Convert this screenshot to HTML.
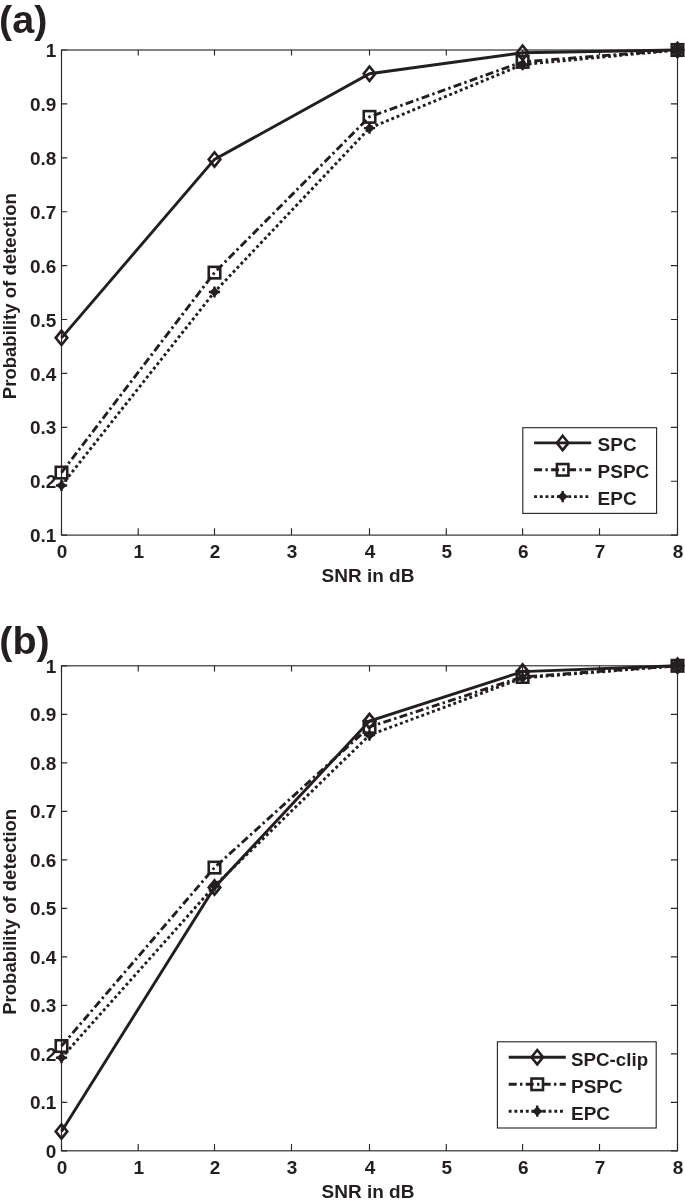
<!DOCTYPE html><html><head><meta charset="utf-8"><style>html,body{margin:0;padding:0;background:#fff;overflow:hidden;}svg{display:block;will-change:transform}</style></head><body>
<svg width="685" height="1202" viewBox="0 0 685 1202" font-family="'Liberation Sans', sans-serif" font-weight="bold" fill="#231f20">
<rect width="685" height="1202" fill="#fff"/>
<text transform="translate(-0.9,33.2) scale(1.04,1)" font-size="38">(a)</text>
<rect x="61.5" y="50.0" width="616.00" height="485.10" fill="none" stroke="#2a2a2a" stroke-width="1.15"/>
<path d="M61.50,535.1 v-6.8 M61.50,50.0 v5.6 M138.20,535.1 v-6.8 M138.20,50.0 v5.6 M214.50,535.1 v-6.8 M214.50,50.0 v5.6 M291.50,535.1 v-6.8 M291.50,50.0 v5.6 M369.50,535.1 v-6.8 M369.50,50.0 v5.6 M446.30,535.1 v-6.8 M446.30,50.0 v5.6 M522.60,535.1 v-6.8 M522.60,50.0 v5.6 M599.50,535.1 v-6.8 M599.50,50.0 v5.6 M677.50,535.1 v-6.8 M677.50,50.0 v5.6 M61.5,535.10 h5.7 M677.5,535.10 h-6.6 M61.5,481.20 h5.7 M677.5,481.20 h-6.6 M61.5,427.30 h5.7 M677.5,427.30 h-6.6 M61.5,373.40 h5.7 M677.5,373.40 h-6.6 M61.5,319.50 h5.7 M677.5,319.50 h-6.6 M61.5,265.60 h5.7 M677.5,265.60 h-6.6 M61.5,211.70 h5.7 M677.5,211.70 h-6.6 M61.5,157.80 h5.7 M677.5,157.80 h-6.6 M61.5,103.90 h5.7 M677.5,103.90 h-6.6 M61.5,50.00 h5.7 M677.5,50.00 h-6.6" stroke="#2a2a2a" stroke-width="1.15" fill="none"/>
<text transform="translate(62.10,557.70) scale(1.055,1)" text-anchor="middle" font-size="18" >0</text>
<text transform="translate(138.80,557.70) scale(1.055,1)" text-anchor="middle" font-size="18" >1</text>
<text transform="translate(215.10,557.70) scale(1.055,1)" text-anchor="middle" font-size="18" >2</text>
<text transform="translate(292.10,557.70) scale(1.055,1)" text-anchor="middle" font-size="18" >3</text>
<text transform="translate(370.10,557.70) scale(1.055,1)" text-anchor="middle" font-size="18" >4</text>
<text transform="translate(446.90,557.70) scale(1.055,1)" text-anchor="middle" font-size="18" >5</text>
<text transform="translate(523.20,557.70) scale(1.055,1)" text-anchor="middle" font-size="18" >6</text>
<text transform="translate(600.10,557.70) scale(1.055,1)" text-anchor="middle" font-size="18" >7</text>
<text transform="translate(678.10,557.70) scale(1.055,1)" text-anchor="middle" font-size="18" >8</text>
<text transform="translate(56.30,542.20) scale(1.055,1)" text-anchor="end" font-size="18" >0.1</text>
<text transform="translate(56.30,488.30) scale(1.055,1)" text-anchor="end" font-size="18" >0.2</text>
<text transform="translate(56.30,434.40) scale(1.055,1)" text-anchor="end" font-size="18" >0.3</text>
<text transform="translate(56.30,380.50) scale(1.055,1)" text-anchor="end" font-size="18" >0.4</text>
<text transform="translate(56.30,326.60) scale(1.055,1)" text-anchor="end" font-size="18" >0.5</text>
<text transform="translate(56.30,272.70) scale(1.055,1)" text-anchor="end" font-size="18" >0.6</text>
<text transform="translate(56.30,218.80) scale(1.055,1)" text-anchor="end" font-size="18" >0.7</text>
<text transform="translate(56.30,164.90) scale(1.055,1)" text-anchor="end" font-size="18" >0.8</text>
<text transform="translate(56.30,111.00) scale(1.055,1)" text-anchor="end" font-size="18" >0.9</text>
<text transform="translate(56.30,57.10) scale(1.055,1)" text-anchor="end" font-size="18" >1</text>
<text transform="translate(368.00,581.80) scale(1.055,1)" text-anchor="middle" font-size="18" >SNR in dB</text>
<text transform="translate(16.3,296.2) rotate(-90) scale(1.03,1)" text-anchor="middle" font-size="18">Probability of detection</text>
<polyline points="61.50,337.83 214.50,159.42 369.50,73.72 522.60,52.69 677.50,50.00" fill="none" stroke="#231f20" stroke-width="2.9" stroke-linejoin="miter"/>
<polyline points="61.50,472.58 214.50,272.61 369.50,116.84 522.60,61.86 677.50,50.00" fill="none" stroke="#231f20" stroke-width="2.9" stroke-dasharray="8.0 3.3 2.4 3.3"/>
<polyline points="61.50,485.51 214.50,292.01 369.50,128.15 522.60,64.55 677.50,50.00" fill="none" stroke="#231f20" stroke-width="2.9" stroke-dasharray="2.9 2.8"/>
<path d="M61.50,480.51 L66.50,485.51 L61.50,490.51 L56.50,485.51 Z" fill="#231f20"/><path d="M55.90,485.51 H67.10 M61.50,479.91 V491.11" stroke="#231f20" stroke-width="2.4" fill="none"/>
<path d="M214.50,287.01 L219.50,292.01 L214.50,297.01 L209.50,292.01 Z" fill="#231f20"/><path d="M208.90,292.01 H220.10 M214.50,286.41 V297.61" stroke="#231f20" stroke-width="2.4" fill="none"/>
<path d="M369.50,123.15 L374.50,128.15 L369.50,133.15 L364.50,128.15 Z" fill="#231f20"/><path d="M363.90,128.15 H375.10 M369.50,122.55 V133.75" stroke="#231f20" stroke-width="2.4" fill="none"/>
<path d="M522.60,59.55 L527.60,64.55 L522.60,69.55 L517.60,64.55 Z" fill="#231f20"/><path d="M517.00,64.55 H528.20 M522.60,58.95 V70.15" stroke="#231f20" stroke-width="2.4" fill="none"/>
<path d="M677.50,45.00 L682.50,50.00 L677.50,55.00 L672.50,50.00 Z" fill="#231f20"/><path d="M671.90,50.00 H683.10 M677.50,44.40 V55.60" stroke="#231f20" stroke-width="2.4" fill="none"/>
<rect x="55.75" y="466.83" width="11.50" height="11.50" fill="none" stroke="#231f20" stroke-width="2.6"/>
<rect x="208.75" y="266.86" width="11.50" height="11.50" fill="none" stroke="#231f20" stroke-width="2.6"/>
<rect x="363.75" y="111.09" width="11.50" height="11.50" fill="none" stroke="#231f20" stroke-width="2.6"/>
<rect x="516.85" y="56.11" width="11.50" height="11.50" fill="none" stroke="#231f20" stroke-width="2.6"/>
<rect x="671.75" y="44.25" width="11.50" height="11.50" fill="none" stroke="#231f20" stroke-width="2.6"/>
<path d="M61.50,330.63 L67.30,337.83 L61.50,345.03 L55.70,337.83 Z" fill="none" stroke="#231f20" stroke-width="2.6" stroke-linejoin="miter" stroke-miterlimit="10"/>
<path d="M214.50,152.22 L220.30,159.42 L214.50,166.62 L208.70,159.42 Z" fill="none" stroke="#231f20" stroke-width="2.6" stroke-linejoin="miter" stroke-miterlimit="10"/>
<path d="M369.50,66.52 L375.30,73.72 L369.50,80.92 L363.70,73.72 Z" fill="none" stroke="#231f20" stroke-width="2.6" stroke-linejoin="miter" stroke-miterlimit="10"/>
<path d="M522.60,45.49 L528.40,52.69 L522.60,59.89 L516.80,52.69 Z" fill="none" stroke="#231f20" stroke-width="2.6" stroke-linejoin="miter" stroke-miterlimit="10"/>
<path d="M677.50,42.80 L683.30,50.00 L677.50,57.20 L671.70,50.00 Z" fill="none" stroke="#231f20" stroke-width="2.6" stroke-linejoin="miter" stroke-miterlimit="10"/>
<rect x="522.8" y="427.7" width="133.80" height="85.70" fill="#fff" stroke="#2a2a2a" stroke-width="1.15"/>
<path d="M534.10,442.90 H591.20" stroke="#231f20" stroke-width="2.9" />
<path d="M562.65,435.70 L568.45,442.90 L562.65,450.10 L556.85,442.90 Z" fill="none" stroke="#231f20" stroke-width="2.6" stroke-linejoin="miter" stroke-miterlimit="10"/>
<text transform="translate(597.60,451.30) scale(1.055,1)" text-anchor="start" font-size="18" >SPC</text>
<path d="M534.10,469.80 H591.20" stroke="#231f20" stroke-width="2.9" stroke-dasharray="8.0 3.3 2.4 3.3"/>
<rect x="556.90" y="464.05" width="11.50" height="11.50" fill="none" stroke="#231f20" stroke-width="2.6"/>
<text transform="translate(597.60,478.20) scale(1.055,1)" text-anchor="start" font-size="18" >PSPC</text>
<path d="M534.10,496.60 H591.20" stroke="#231f20" stroke-width="2.9" stroke-dasharray="2.9 2.8"/>
<path d="M562.65,491.60 L567.65,496.60 L562.65,501.60 L557.65,496.60 Z" fill="#231f20"/><path d="M557.05,496.60 H568.25 M562.65,491.00 V502.20" stroke="#231f20" stroke-width="2.4" fill="none"/>
<text transform="translate(597.60,505.00) scale(1.055,1)" text-anchor="start" font-size="18" >EPC</text>
<text transform="translate(-0.7,653.5) scale(1.04,1)" font-size="38">(b)</text>
<rect x="61.5" y="665.8" width="616.00" height="485.00" fill="none" stroke="#2a2a2a" stroke-width="1.15"/>
<path d="M61.50,1150.8 v-6.8 M61.50,665.8 v5.6 M138.20,1150.8 v-6.8 M138.20,665.8 v5.6 M214.50,1150.8 v-6.8 M214.50,665.8 v5.6 M291.50,1150.8 v-6.8 M291.50,665.8 v5.6 M369.50,1150.8 v-6.8 M369.50,665.8 v5.6 M446.30,1150.8 v-6.8 M446.30,665.8 v5.6 M522.60,1150.8 v-6.8 M522.60,665.8 v5.6 M599.50,1150.8 v-6.8 M599.50,665.8 v5.6 M677.50,1150.8 v-6.8 M677.50,665.8 v5.6 M61.5,1150.80 h5.7 M677.5,1150.80 h-6.6 M61.5,1102.30 h5.7 M677.5,1102.30 h-6.6 M61.5,1053.80 h5.7 M677.5,1053.80 h-6.6 M61.5,1005.30 h5.7 M677.5,1005.30 h-6.6 M61.5,956.80 h5.7 M677.5,956.80 h-6.6 M61.5,908.30 h5.7 M677.5,908.30 h-6.6 M61.5,859.80 h5.7 M677.5,859.80 h-6.6 M61.5,811.30 h5.7 M677.5,811.30 h-6.6 M61.5,762.80 h5.7 M677.5,762.80 h-6.6 M61.5,714.30 h5.7 M677.5,714.30 h-6.6 M61.5,665.80 h5.7 M677.5,665.80 h-6.6" stroke="#2a2a2a" stroke-width="1.15" fill="none"/>
<text transform="translate(62.10,1173.70) scale(1.055,1)" text-anchor="middle" font-size="18" >0</text>
<text transform="translate(138.80,1173.70) scale(1.055,1)" text-anchor="middle" font-size="18" >1</text>
<text transform="translate(215.10,1173.70) scale(1.055,1)" text-anchor="middle" font-size="18" >2</text>
<text transform="translate(292.10,1173.70) scale(1.055,1)" text-anchor="middle" font-size="18" >3</text>
<text transform="translate(370.10,1173.70) scale(1.055,1)" text-anchor="middle" font-size="18" >4</text>
<text transform="translate(446.90,1173.70) scale(1.055,1)" text-anchor="middle" font-size="18" >5</text>
<text transform="translate(523.20,1173.70) scale(1.055,1)" text-anchor="middle" font-size="18" >6</text>
<text transform="translate(600.10,1173.70) scale(1.055,1)" text-anchor="middle" font-size="18" >7</text>
<text transform="translate(678.10,1173.70) scale(1.055,1)" text-anchor="middle" font-size="18" >8</text>
<text transform="translate(56.30,1157.90) scale(1.055,1)" text-anchor="end" font-size="18" >0</text>
<text transform="translate(56.30,1109.40) scale(1.055,1)" text-anchor="end" font-size="18" >0.1</text>
<text transform="translate(56.30,1060.90) scale(1.055,1)" text-anchor="end" font-size="18" >0.2</text>
<text transform="translate(56.30,1012.40) scale(1.055,1)" text-anchor="end" font-size="18" >0.3</text>
<text transform="translate(56.30,963.90) scale(1.055,1)" text-anchor="end" font-size="18" >0.4</text>
<text transform="translate(56.30,915.40) scale(1.055,1)" text-anchor="end" font-size="18" >0.5</text>
<text transform="translate(56.30,866.90) scale(1.055,1)" text-anchor="end" font-size="18" >0.6</text>
<text transform="translate(56.30,818.40) scale(1.055,1)" text-anchor="end" font-size="18" >0.7</text>
<text transform="translate(56.30,769.90) scale(1.055,1)" text-anchor="end" font-size="18" >0.8</text>
<text transform="translate(56.30,721.40) scale(1.055,1)" text-anchor="end" font-size="18" >0.9</text>
<text transform="translate(56.30,672.90) scale(1.055,1)" text-anchor="end" font-size="18" >1</text>
<text transform="translate(368.00,1198.00) scale(1.055,1)" text-anchor="middle" font-size="18" >SNR in dB</text>
<text transform="translate(16.3,911.8) rotate(-90) scale(1.03,1)" text-anchor="middle" font-size="18">Probability of detection</text>
<polyline points="61.50,1131.40 214.50,887.44 369.50,721.09 522.60,671.62 677.50,665.80" fill="none" stroke="#231f20" stroke-width="2.9" stroke-linejoin="miter"/>
<polyline points="61.50,1046.04 214.50,867.56 369.50,726.91 522.60,676.95 677.50,665.80" fill="none" stroke="#231f20" stroke-width="2.9" stroke-dasharray="8.0 3.3 2.4 3.3"/>
<polyline points="61.50,1057.68 214.50,885.99 369.50,735.15 522.60,677.92 677.50,665.80" fill="none" stroke="#231f20" stroke-width="2.9" stroke-dasharray="2.9 2.8"/>
<path d="M61.50,1052.68 L66.50,1057.68 L61.50,1062.68 L56.50,1057.68 Z" fill="#231f20"/><path d="M55.90,1057.68 H67.10 M61.50,1052.08 V1063.28" stroke="#231f20" stroke-width="2.4" fill="none"/>
<path d="M214.50,880.99 L219.50,885.99 L214.50,890.99 L209.50,885.99 Z" fill="#231f20"/><path d="M208.90,885.99 H220.10 M214.50,880.39 V891.59" stroke="#231f20" stroke-width="2.4" fill="none"/>
<path d="M369.50,730.15 L374.50,735.15 L369.50,740.15 L364.50,735.15 Z" fill="#231f20"/><path d="M363.90,735.15 H375.10 M369.50,729.55 V740.75" stroke="#231f20" stroke-width="2.4" fill="none"/>
<path d="M522.60,672.92 L527.60,677.92 L522.60,682.92 L517.60,677.92 Z" fill="#231f20"/><path d="M517.00,677.92 H528.20 M522.60,672.32 V683.52" stroke="#231f20" stroke-width="2.4" fill="none"/>
<path d="M677.50,660.80 L682.50,665.80 L677.50,670.80 L672.50,665.80 Z" fill="#231f20"/><path d="M671.90,665.80 H683.10 M677.50,660.20 V671.40" stroke="#231f20" stroke-width="2.4" fill="none"/>
<rect x="55.75" y="1040.29" width="11.50" height="11.50" fill="none" stroke="#231f20" stroke-width="2.6"/>
<rect x="208.75" y="861.81" width="11.50" height="11.50" fill="none" stroke="#231f20" stroke-width="2.6"/>
<rect x="363.75" y="721.16" width="11.50" height="11.50" fill="none" stroke="#231f20" stroke-width="2.6"/>
<rect x="516.85" y="671.20" width="11.50" height="11.50" fill="none" stroke="#231f20" stroke-width="2.6"/>
<rect x="671.75" y="660.05" width="11.50" height="11.50" fill="none" stroke="#231f20" stroke-width="2.6"/>
<path d="M61.50,1124.20 L67.30,1131.40 L61.50,1138.60 L55.70,1131.40 Z" fill="none" stroke="#231f20" stroke-width="2.6" stroke-linejoin="miter" stroke-miterlimit="10"/>
<path d="M214.50,880.24 L220.30,887.44 L214.50,894.64 L208.70,887.44 Z" fill="none" stroke="#231f20" stroke-width="2.6" stroke-linejoin="miter" stroke-miterlimit="10"/>
<path d="M369.50,713.89 L375.30,721.09 L369.50,728.29 L363.70,721.09 Z" fill="none" stroke="#231f20" stroke-width="2.6" stroke-linejoin="miter" stroke-miterlimit="10"/>
<path d="M522.60,664.42 L528.40,671.62 L522.60,678.82 L516.80,671.62 Z" fill="none" stroke="#231f20" stroke-width="2.6" stroke-linejoin="miter" stroke-miterlimit="10"/>
<path d="M677.50,658.60 L683.30,665.80 L677.50,673.00 L671.70,665.80 Z" fill="none" stroke="#231f20" stroke-width="2.6" stroke-linejoin="miter" stroke-miterlimit="10"/>
<rect x="497.4" y="1041.8" width="158.80" height="86.20" fill="#fff" stroke="#2a2a2a" stroke-width="1.15"/>
<path d="M508.70,1057.20 H565.80" stroke="#231f20" stroke-width="2.9" />
<path d="M537.25,1050.00 L543.05,1057.20 L537.25,1064.40 L531.45,1057.20 Z" fill="none" stroke="#231f20" stroke-width="2.6" stroke-linejoin="miter" stroke-miterlimit="10"/>
<text transform="translate(571.00,1065.60) scale(1.042,1)" text-anchor="start" font-size="18" >SPC-clip</text>
<path d="M508.70,1084.30 H565.80" stroke="#231f20" stroke-width="2.9" stroke-dasharray="8.0 3.3 2.4 3.3"/>
<rect x="531.50" y="1078.55" width="11.50" height="11.50" fill="none" stroke="#231f20" stroke-width="2.6"/>
<text transform="translate(571.00,1092.70) scale(1.055,1)" text-anchor="start" font-size="18" >PSPC</text>
<path d="M508.70,1111.20 H565.80" stroke="#231f20" stroke-width="2.9" stroke-dasharray="2.9 2.8"/>
<path d="M537.25,1106.20 L542.25,1111.20 L537.25,1116.20 L532.25,1111.20 Z" fill="#231f20"/><path d="M531.65,1111.20 H542.85 M537.25,1105.60 V1116.80" stroke="#231f20" stroke-width="2.4" fill="none"/>
<text transform="translate(571.00,1119.60) scale(1.055,1)" text-anchor="start" font-size="18" >EPC</text>
</svg></body></html>
